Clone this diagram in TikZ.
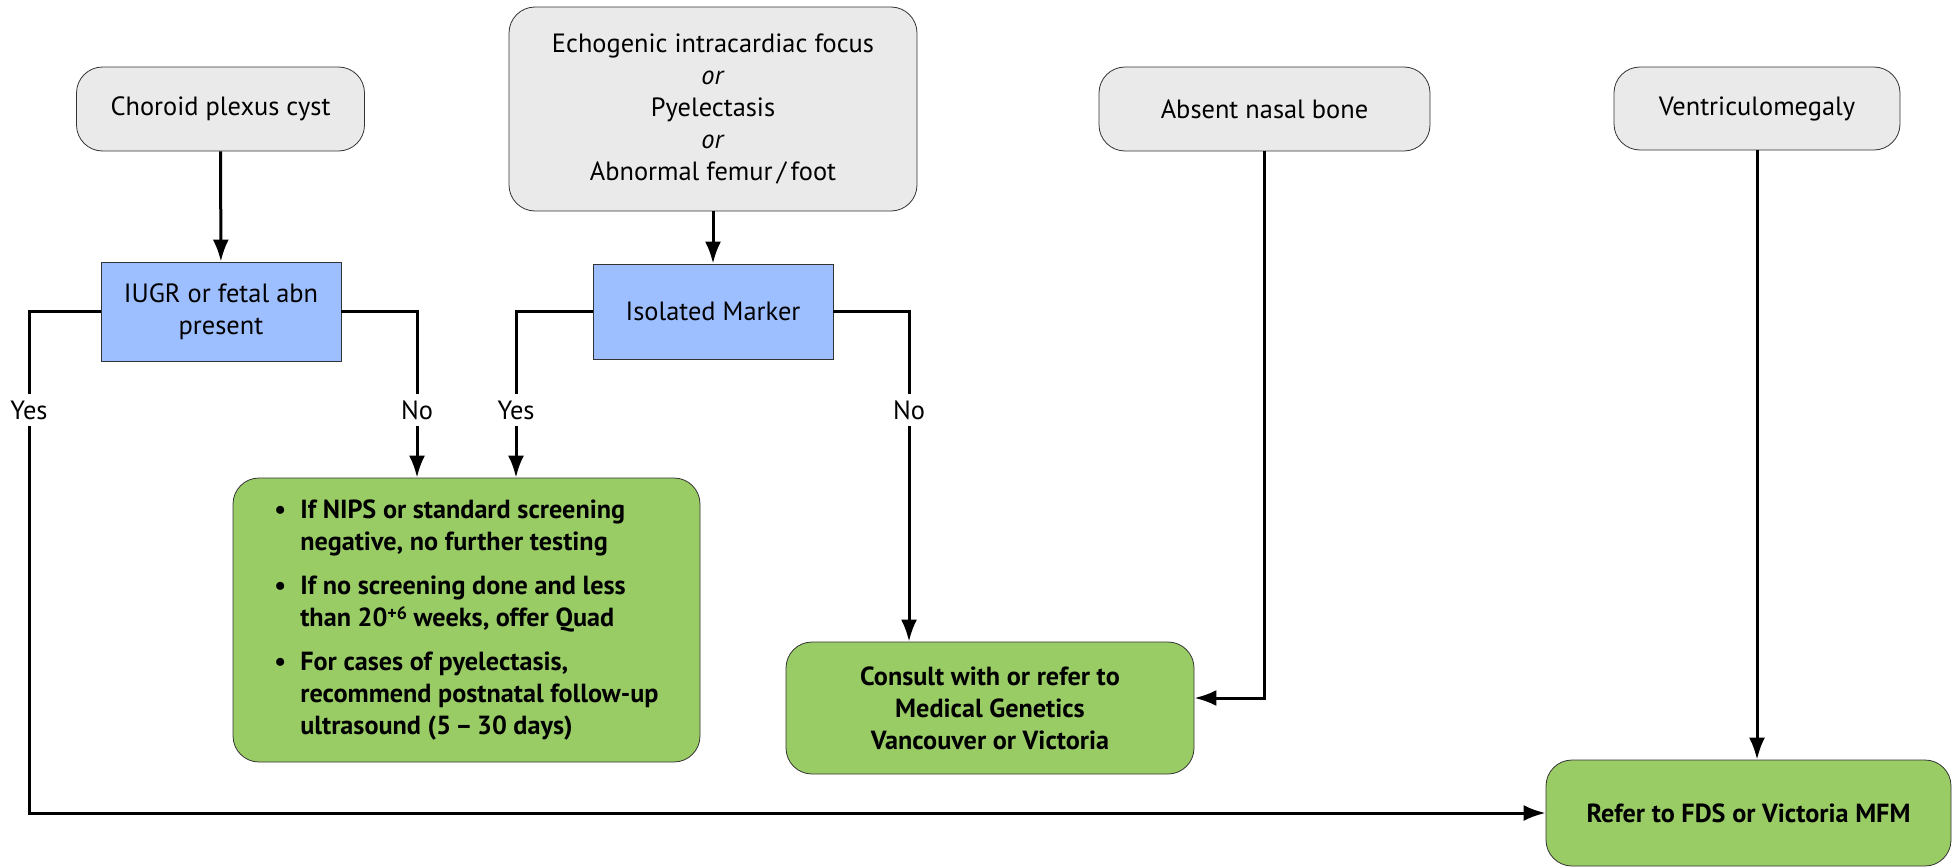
\documentclass[tikz,border=0pt]{standalone}
\usepackage{fontspec}
\setmainfont{PT Sans}
\usetikzlibrary{arrows.meta}
\definecolor{boxgrey}{HTML}{EAEAEA}
\definecolor{boxblue}{HTML}{9DBEFF}
\definecolor{boxgreen}{HTML}{9ACC66}
\begin{document}
\begin{tikzpicture}[x=0.5pt,y=-0.5pt,
    every node/.style={font=\fontsize{13.2}{16}\selectfont},
    marker/.style={draw=black!80,fill=boxgrey,rounded corners=13pt,align=center,inner sep=0pt},
    check/.style={draw=black!80,fill=boxblue,align=center,inner sep=0pt},
    action/.style={draw=black!80,fill=boxgreen,rounded corners=13pt,align=center,inner sep=0pt,
        font=\fontsize{13.1}{16}\selectfont\bfseries},
    answer/.style={fill=white,inner sep=3pt},
    conn/.style={line width=1.5pt},
    >={Latex[length=11pt,width=8pt]}]
    \useasboundingbox (0,0) rectangle (1954,867);
    % soft markers
    \node[marker,minimum width=144pt,minimum height=42pt] (cpc) at (220.5,109) {Choroid plexus cyst};
    \node[marker,minimum width=204pt,minimum height=102pt] (eif) at (713,109)
        {Echogenic intracardiac focus\\ \textit{or}\\ Pyelectasis\\ \textit{or}\\ Abnormal femur\,/\,foot};
    \node[marker,minimum width=165.5pt,minimum height=42pt] (anb) at (1264.5,109) {Absent nasal bone};
    \node[marker,minimum width=143pt,minimum height=41.5pt] (vm) at (1757,108.5) {Ventriculomegaly};
    % questions
    \node[check,minimum width=120pt,minimum height=49.5pt] (iugr) at (221,311.5) {IUGR or fetal abn\\ present};
    \node[check,minimum width=120pt,minimum height=47.5pt] (iso) at (713,311.5) {Isolated Marker};
    % outcomes
    \node[action,minimum width=233.5pt,minimum height=142pt] (nips) at (466.5,620) {%
        \begin{tabular}{@{}l@{\hspace{7pt}}l@{}}
        \textbullet & If NIPS or standard screening\\
                    & negative, no further testing\\[6pt]
        \textbullet & If no screening done and less\\
                    & than 20{\fontsize{9}{9}\selectfont\raisebox{3.5pt}{+6}} weeks, offer Quad\\[6pt]
        \textbullet & For cases of pyelectasis,\\
                    & recommend postnatal follow-up\\
                    & ultrasound (5\,--\,30 days)
        \end{tabular}};
    \node[action,minimum width=204pt,minimum height=66pt] (cons) at (990,708)
        {Consult with or refer to\\ Medical Genetics\\ Vancouver or Victoria};
    \node[action,minimum width=202.5pt,minimum height=53pt] (fds) at (1748.5,813) {Refer to FDS or Victoria MFM};
    % yes / no
    \node[answer] (yes1) at (29,410) {Yes};
    \node[answer] (no1) at (417,410) {No};
    \node[answer] (yes2) at (516,410) {Yes};
    \node[answer] (no2) at (909,410) {No};
    % connectors
    \draw[conn,->] (cpc) -- (iugr);
    \draw[conn,->] (eif) -- (iso);
    \draw[conn] (iugr.west) -| (yes1);
    \draw[conn,->] (yes1) |- (fds.west);
    \draw[conn] (iugr.east) -| (no1);
    \draw[conn,->] (no1) -- (no1 |- nips.north);
    \draw[conn] (iso.west) -| (yes2);
    \draw[conn,->] (yes2) -- (yes2 |- nips.north);
    \draw[conn] (iso.east) -| (no2);
    \draw[conn,->] (no2) -- (no2 |- cons.north);
    \draw[conn,->] (anb.south) |- ([yshift=5pt]cons.east);
    \draw[conn,->] (vm) -- (vm |- fds.north);
\end{tikzpicture}
\end{document}
